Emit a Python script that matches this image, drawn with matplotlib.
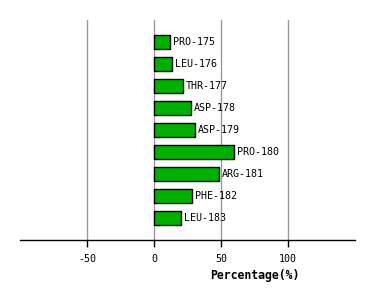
import matplotlib
matplotlib.use("Agg")
import matplotlib.pyplot as plt

# residue labels and percentage values
residues = ["PRO-175", "LEU-176", "THR-177", "ASP-178", "ASP-179",
            "PRO-180", "ARG-181", "PHE-182", "LEU-183"]
percent = [11.7, 13.2, 21.4, 27.4, 30.3, 59.5, 48.3, 28.1, 19.9]
xticks = [-50, 0, 50, 100]

fig = plt.figure(figsize=(3.74, 3.0), dpi=100)
ax = fig.add_axes([20 / 374, 0.2, 335 / 374, 220 / 300])

pos = list(range(len(residues)))
ax.barh(pos, percent, height=0.68, color="#00b000", edgecolor="black",
        linewidth=1.0, zorder=3)

# label after each bar
for y, v, name in zip(pos, percent, residues):
    ax.text(v + 2.5, y, name, va="center", ha="left",
            fontsize=7.2, family="DejaVu Sans Mono", zorder=4)

ax.set_xlim(-100, 150)
ax.set_ylim(9, -1)
ax.set_xticks(xticks)
ax.set_xticklabels([str(t) for t in xticks], family="DejaVu Sans Mono", fontsize=7.2)
ax.set_yticks([])
ax.grid(axis="x", color="#999999", linewidth=1.0, zorder=0)

for s in ["top", "right", "left"]:
    ax.spines[s].set_visible(False)
ax.spines["bottom"].set_linewidth(1.0)
ax.tick_params(axis="x", length=5, width=1.0, pad=5)

ax.set_xlabel("Percentage(%)", fontsize=8.3, fontweight="bold",
              family="DejaVu Sans Mono")
ax.xaxis.set_label_coords(0.70, -0.13)

fig.savefig("out.png", dpi=100)
